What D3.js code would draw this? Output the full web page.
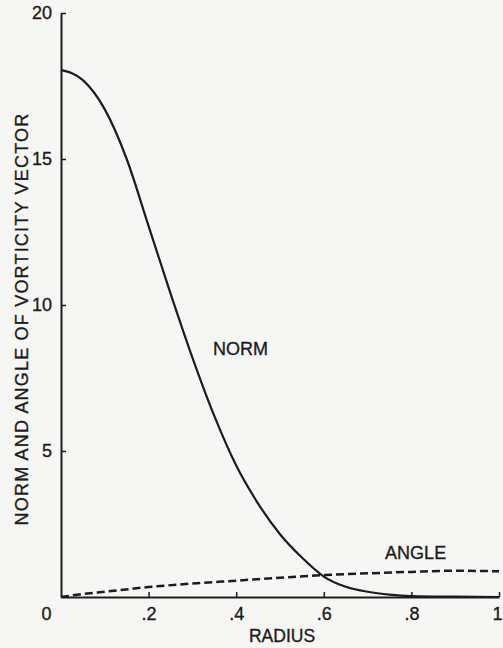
<!DOCTYPE html>
<html>
<head>
<meta charset="utf-8">
<script src="https://cdn.jsdelivr.net/npm/d3@7"></script>
<style>
  html, body { margin: 0; padding: 0; background: #f6f6f4; }
  svg { display: block; }
  text { font-family: "Liberation Sans", Arial, Helvetica, sans-serif; fill: #1c1c1c; stroke: #1c1c1c; stroke-width: 0.35px; }
</style>
</head>
<body>
<svg id="chart" width="503" height="648"></svg>
<script>
// Radius samples (x) and series values
const normRadius = [0, 0.05, 0.1, 0.15, 0.2, 0.25, 0.3, 0.35, 0.4, 0.45, 0.5, 0.55, 0.6, 0.65, 0.7, 0.75, 0.8, 0.9, 1.0];
const normValues = [18.05, 17.7, 16.7, 15.0, 12.7, 10.4, 8.2, 6.2, 4.5, 3.2, 2.15, 1.35, 0.7, 0.35, 0.18, 0.08, 0.03, 0.01, 0.0];

const angleRadius = [0, 0.05, 0.1, 0.2, 0.3, 0.4, 0.5, 0.6, 0.7, 0.8, 0.9, 1.0];
const angleValues = [0, 0.1, 0.18, 0.34, 0.46, 0.56, 0.66, 0.75, 0.81, 0.86, 0.9, 0.88];

const xTicks = [0, 0.2, 0.4, 0.6, 0.8, 1];
const xTickLabels = ["0", ".2", ".4", ".6", ".8", "1"];
const yTicks = [5, 10, 15, 20];
const yTickLabels = ["5", "10", "15", "20"];

const xTitle = "RADIUS";
const yTitle = "NORM AND ANGLE OF VORTICITY VECTOR";
const seriesLabels = ["NORM", "ANGLE"];

const svg = d3.select("#chart");
const ink = "#1c1c1c";

const x = d3.scaleLinear().domain([0, 1]).range([61, 499]);
const y = d3.scaleLinear().domain([0, 20]).range([597, 13]);

// X axis
const xAxis = d3.axisBottom(x)
  .tickValues(xTicks)
  .tickFormat((d, i) => xTickLabels[i])
  .tickSizeInner(-5)
  .tickSizeOuter(0)
  .tickPadding(10);
const gx = svg.append("g").attr("transform", `translate(0,${y(0)})`).call(xAxis);
gx.select(".domain").attr("stroke", ink).attr("stroke-width", 2);
gx.selectAll(".tick line").attr("stroke", ink).attr("stroke-width", 1.5);
gx.selectAll(".tick text").attr("font-size", 18).attr("fill", ink)
  .attr("font-family", "Liberation Sans, Arial, sans-serif")
  .attr("dx", d => d === 0 ? -15 : (d === 1 ? -2 : 0));
gx.selectAll(".tick").filter(d => d === 0).select("line").remove();

// Y axis
const yAxis = d3.axisLeft(y)
  .tickValues(yTicks)
  .tickFormat((d, i) => yTickLabels[i])
  .tickSizeInner(-5)
  .tickSizeOuter(0)
  .tickPadding(9);
const gy = svg.append("g").attr("transform", `translate(${x(0)},0)`).call(yAxis);
gy.select(".domain").attr("stroke", ink).attr("stroke-width", 2);
gy.selectAll(".tick line").attr("stroke", ink).attr("stroke-width", 1.5);
gy.selectAll(".tick text").attr("font-size", 18).attr("fill", ink)
  .attr("font-family", "Liberation Sans, Arial, sans-serif");

// Titles
svg.append("text")
  .attr("x", 282).attr("y", 642)
  .attr("text-anchor", "middle")
  .attr("font-size", 17.5)
  .text(xTitle);

svg.append("text")
  .attr("transform", `translate(28,319) rotate(-90)`)
  .attr("text-anchor", "middle")
  .attr("font-size", 18)
  .attr("letter-spacing", 1.2)
  .text(yTitle);

// Lines
const line = d3.line().x(d => x(d[0])).y(d => y(d[1])).curve(d3.curveMonotoneX);

svg.append("path")
  .datum(normRadius.map((r, i) => [r, normValues[i]]))
  .attr("fill", "none")
  .attr("stroke", ink)
  .attr("stroke-width", 2.2)
  .attr("d", line);

svg.append("path")
  .datum(angleRadius.map((r, i) => [r, angleValues[i]]))
  .attr("fill", "none")
  .attr("stroke", ink)
  .attr("stroke-width", 2.5)
  .attr("stroke-dasharray", "8,4")
  .attr("d", line);

// Series labels
svg.append("text").attr("x", x(0.347)).attr("y", y(8.29))
  .attr("font-size", 18).text(seriesLabels[0]);
svg.append("text").attr("x", x(0.74)).attr("y", y(1.3))
  .attr("font-size", 18).text(seriesLabels[1]);
</script>
</body>
</html>
